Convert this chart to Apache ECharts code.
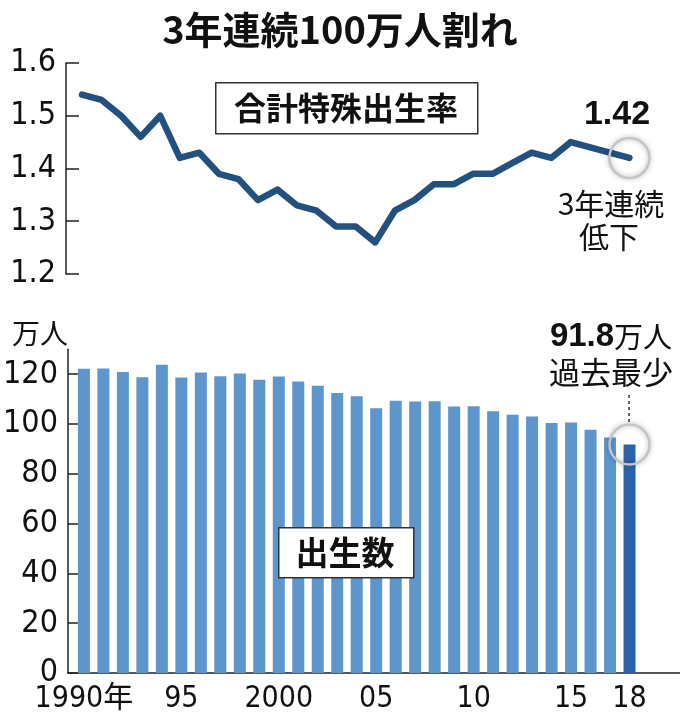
<!DOCTYPE html>
<html>
<head>
<meta charset="utf-8">
<script src="https://cdn.jsdelivr.net/npm/echarts@6/dist/echarts.min.js"></script>
<style>
    html, body { margin: 0; padding: 0; background: #fff; }
    #chart { width: 680px; height: 727px; }
</style>
</head>
<body>
<div id="chart"></div>
<script>
// 年（1990〜2018）
var years = [1990, 1991, 1992, 1993, 1994, 1995, 1996, 1997, 1998, 1999,
    2000, 2001, 2002, 2003, 2004, 2005, 2006, 2007, 2008, 2009,
    2010, 2011, 2012, 2013, 2014, 2015, 2016, 2017, 2018];

// 合計特殊出生率
var rate = [1.54, 1.53, 1.50, 1.46, 1.50, 1.42, 1.43, 1.39, 1.38, 1.34,
    1.36, 1.33, 1.32, 1.29, 1.29, 1.26, 1.32, 1.34, 1.37, 1.37,
    1.39, 1.39, 1.41, 1.43, 1.42, 1.45, 1.44, 1.43, 1.42];

// 出生数（万人）
var births = [122.2, 122.3, 120.9, 118.8, 123.8, 118.7, 120.7, 119.2, 120.3, 117.8,
    119.1, 117.1, 115.4, 112.4, 111.1, 106.3, 109.3, 109.0, 109.1, 107.0,
    107.1, 105.1, 103.7, 103.0, 100.4, 100.6, 97.7, 94.6, 91.8];

// 目盛り
var yearTicks = [1990, 1995, 2000, 2005, 2010, 2015, 2018];
var yearTickLabels = ['1990年', '95', '2000', '05', '10', '15', '18'];
var rateTicks = [1.2, 1.3, 1.4, 1.5, 1.6];
var birthTicks = [0, 20, 40, 60, 80, 100, 120];

var numFont = "'Liberation Sans Narrow', 'DejaVu Sans Condensed', 'Noto Sans CJK JP', sans-serif";
var jpFont = "'Noto Sans CJK JP', sans-serif";
var boldNum = "'Liberation Sans', 'Noto Sans CJK JP', sans-serif";

var last = years.length - 1;
var xMin = 1989.18, xMax = 2020.59;

var ratePoints = years.map(function (y, i) { return [y, rate[i]]; });
var birthPoints = years.map(function (y, i) { return [y, births[i]]; });

var axisColor = '#222';

// 最新値を囲む丸
var ring = {
    symbol: 'circle',
    symbolSize: 40,
    silent: true,
    label: { show: false },
    itemStyle: {
        color: 'rgba(255,255,255,0)',
        borderColor: '#c4c4c4',
        borderWidth: 2.5,
        shadowBlur: 5,
        shadowColor: 'rgba(0,0,0,0.3)'
    }
};

var myChart = echarts.init(document.getElementById('chart'));

var option = {
    animation: false,
    backgroundColor: '#fff',
    grid: [
        { left: 66, right: 0, top: 63, height: 211 },
        { left: 66, right: 0, top: 349.3, bottom: 54 }
    ],
    xAxis: [
        {
            gridIndex: 0, type: 'value', min: xMin, max: xMax,
            axisLine: { show: false }, axisTick: { show: false },
            axisLabel: { show: false }, splitLine: { show: false }
        },
        {
            gridIndex: 1, type: 'value', min: xMin, max: xMax,
            axisLine: { show: true, onZero: false, lineStyle: { color: axisColor, width: 1.5 } },
            axisTick: { show: false },
            splitLine: { show: false },
            axisLabel: {
                customValues: yearTicks,
                margin: 11,
                fontSize: 30,
                color: '#111',
                fontFamily: numFont,
                formatter: function (v) {
                    var i = yearTicks.indexOf(Math.round(v));
                    return i >= 0 ? yearTickLabels[i] : '';
                }
            }
        }
    ],
    yAxis: [
        {
            gridIndex: 0, type: 'value', min: 1.2, max: 1.6,
            axisLine: { show: true, lineStyle: { color: axisColor, width: 1.5 } },
            axisTick: { show: true, inside: true, length: 13, customValues: rateTicks,
                lineStyle: { color: axisColor, width: 1.5 } },
            splitLine: { show: false },
            axisLabel: {
                customValues: rateTicks,
                margin: 10,
                fontSize: 32,
                color: '#111',
                fontFamily: numFont,
                formatter: function (v) { return v.toFixed(1); }
            }
        },
        {
            gridIndex: 1, type: 'value', min: 0, max: 130,
            axisLine: { show: true, lineStyle: { color: axisColor, width: 1.5 } },
            axisTick: { show: true, inside: true, length: 10, customValues: birthTicks,
                lineStyle: { color: axisColor, width: 1.5 } },
            splitLine: { show: false },
            axisLabel: {
                customValues: birthTicks,
                margin: 10,
                fontSize: 32,
                color: '#111',
                fontFamily: numFont,
                formatter: function (v) { return String(Math.round(v)); }
            }
        }
    ],
    series: [
        {
            type: 'line',
            xAxisIndex: 0,
            yAxisIndex: 0,
            data: ratePoints,
            symbol: 'none',
            lineStyle: { color: '#22507f', width: 6.5, cap: 'round', join: 'round' },
            markPoint: Object.assign({ data: [{ coord: ratePoints[last] }] }, ring),
            z: 3
        },
        {
            type: 'bar',
            xAxisIndex: 1,
            yAxisIndex: 1,
            data: birthPoints,
            barWidth: 12,
            itemStyle: {
                color: function (p) {
                    return p.dataIndex === last ? '#2b63aa' : '#5d95cd';
                }
            },
            markPoint: Object.assign({ data: [{ coord: birthPoints[last] }] }, ring),
            z: 2
        }
    ],
    graphic: [
        {
            type: 'text', x: 340, y: 30,
            style: { text: '3年連続100万人割れ', font: 'bold 38px ' + jpFont, fill: '#111',
                align: 'center', verticalAlign: 'middle' }
        },
        {
            type: 'rect', left: 215, top: 82, z: 10,
            shape: { width: 262, height: 51 },
            style: { fill: '#fff', stroke: '#333', lineWidth: 1.5 }
        },
        {
            type: 'text', x: 346, y: 108, z: 11,
            style: { text: '合計特殊出生率', font: 'bold 32px ' + jpFont, fill: '#111',
                align: 'center', verticalAlign: 'middle' }
        },
        {
            type: 'text', x: 617, y: 115, z: 11,
            style: { text: rate[last].toFixed(2), font: 'bold 34px ' + boldNum, fill: '#111',
                align: 'center', verticalAlign: 'middle' }
        },
        {
            type: 'text', x: 611, y: 204, z: 11,
            style: { text: '3年連続', font: '30px ' + jpFont, fill: '#111',
                align: 'center', verticalAlign: 'middle' }
        },
        {
            type: 'text', x: 609, y: 237, z: 11,
            style: { text: '低下', font: '30px ' + jpFont, fill: '#111',
                align: 'center', verticalAlign: 'middle' }
        },
        {
            type: 'text', x: 40, y: 333, z: 11,
            style: { text: '万人', font: '28px ' + jpFont, fill: '#111',
                align: 'center', verticalAlign: 'middle' }
        },
        {
            type: 'text', x: 611, y: 337, z: 11,
            style: {
                text: '{b|' + births[last].toFixed(1) + '}{n|万人}',
                align: 'center', verticalAlign: 'middle',
                rich: {
                    b: { font: 'bold 33px ' + boldNum, fill: '#111' },
                    n: { font: '29px ' + jpFont, fill: '#111' }
                }
            }
        },
        {
            type: 'text', x: 611, y: 372, z: 11,
            style: { text: '過去最少', font: '31px ' + jpFont, fill: '#111',
                align: 'center', verticalAlign: 'middle' }
        },
        {
            type: 'line', z: 11,
            shape: { x1: 629, y1: 395, x2: 629, y2: 424 },
            style: { stroke: '#333', lineWidth: 1.5, lineDash: [3, 3] }
        },
        {
            type: 'rect', left: 278, top: 527, z: 10,
            shape: { width: 135, height: 50 },
            style: { fill: '#fff', stroke: '#333', lineWidth: 1.5 }
        },
        {
            type: 'text', x: 345, y: 552, z: 11,
            style: { text: '出生数', font: 'bold 33px ' + jpFont, fill: '#111',
                align: 'center', verticalAlign: 'middle' }
        }
    ]
};

myChart.setOption(option);
</script>
</body>
</html>
